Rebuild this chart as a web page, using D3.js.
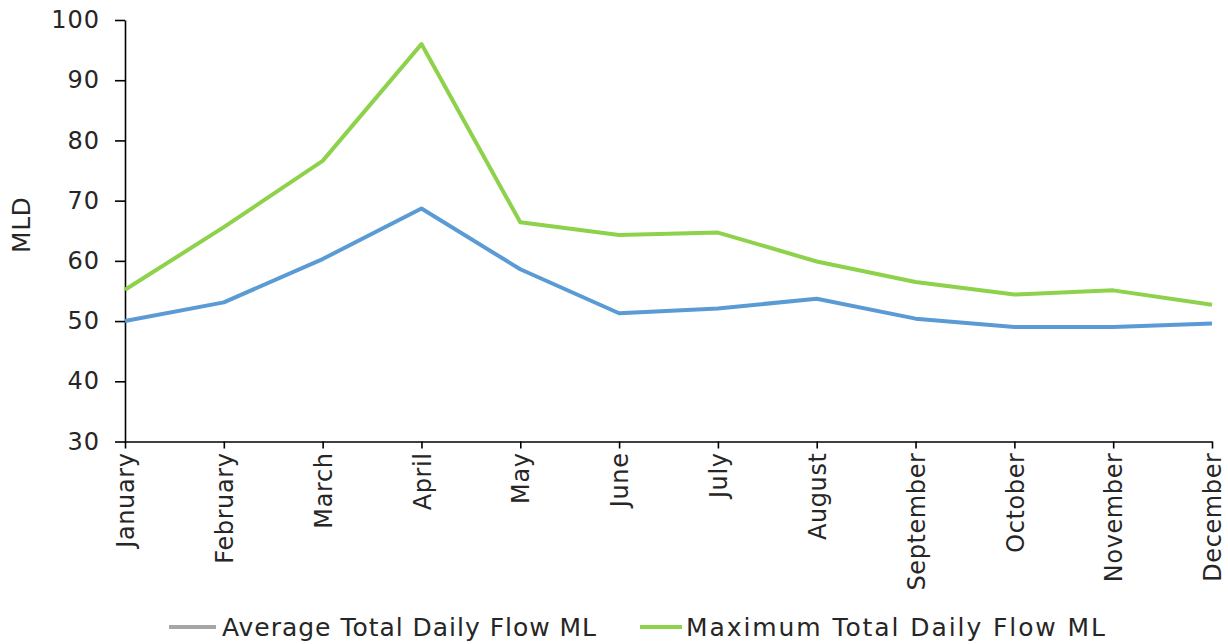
<!DOCTYPE html>
<html>
<head>
<meta charset="utf-8">
<script src="https://cdn.jsdelivr.net/npm/d3@7"></script>
<style>
  html, body { margin: 0; padding: 0; background: #fff; }
  svg text { font-family: "DejaVu Sans", Verdana, sans-serif; fill: #262626; }
</style>
</head>
<body>
<svg id="chart" width="1228" height="644"></svg>
<script>
const months = ["January","February","March","April","May","June","July","August","September","October","November","December"];
const avgFlow = [50.0, 53.1, 60.3, 68.7, 58.6, 51.3, 52.1, 53.7, 50.4, 49.0, 49.0, 49.6];
const maxFlow = [55.2, 65.6, 76.6, 96.0, 66.4, 64.3, 64.7, 59.9, 56.5, 54.4, 55.1, 52.7];
const yTicks = [30, 40, 50, 60, 70, 80, 90, 100];
const seriesNames = ["Average Total Daily Flow ML", "Maximum Total Daily Flow ML"];

const svg = d3.select("#chart");
const mLeft = 125, mRight = 1212, mTop = 20, mBottom = 441.5;

const x = d3.scalePoint().domain(months).range([mLeft, mRight]).padding(0);
const y = d3.scaleLinear().domain([30, 100]).range([mBottom, mTop]);

// Y axis
const yAxis = svg.append("g")
  .attr("transform", `translate(${mLeft},0)`)
  .call(d3.axisLeft(y).tickValues(yTicks).tickSize(10).tickPadding(15).tickSizeOuter(0));
yAxis.select(".domain").attr("stroke", "#000").attr("stroke-width", 1.6);
yAxis.selectAll(".tick line").attr("stroke", "#000").attr("stroke-width", 1.6);
yAxis.selectAll(".tick text").style("font-size", "24px").attr("fill", "#262626")
  .style("font-family", '"DejaVu Sans", Verdana, sans-serif')
  .style("letter-spacing", "1px");

// X axis
const xAxis = svg.append("g")
  .attr("transform", `translate(0,${mBottom})`)
  .call(d3.axisBottom(x).tickSize(7).tickSizeOuter(0));
xAxis.select(".domain").attr("stroke", "#000").attr("stroke-width", 1.6);
xAxis.selectAll(".tick line").attr("stroke", "#000").attr("stroke-width", 1.6);
xAxis.selectAll(".tick text")
  .style("font-size", "24px").attr("fill", "#262626")
  .style("font-family", '"DejaVu Sans", Verdana, sans-serif')
  .style("letter-spacing", "0.6px")
  .attr("text-anchor", "end")
  .attr("transform", "rotate(-90)")
  .attr("x", -11).attr("y", 0).attr("dy", "0.36em");

// Y label
svg.append("text")
  .attr("transform", `translate(30,${(mTop + mBottom) / 2 - 6}) rotate(-90)`)
  .attr("text-anchor", "middle")
  .style("font-size", "25px")
  .style("letter-spacing", "0.5px")
  .text("MLD");

// Lines
const line = d3.line().x((d, i) => x(months[i])).y(d => y(d));
svg.append("path").datum(avgFlow)
  .attr("fill", "none").attr("stroke", "#5B9BD5").attr("stroke-width", 4)
  .attr("stroke-linejoin", "round").attr("d", line);
svg.append("path").datum(maxFlow)
  .attr("fill", "none").attr("stroke", "#8ED14B").attr("stroke-width", 4)
  .attr("stroke-linejoin", "round").attr("d", line);

// Legend
const legend = [
  { name: seriesNames[0], color: "#A6A6A6", x0: 169, x1: 216, tx: 222, w: 374 },
  { name: seriesNames[1], color: "#8ED14B", x0: 640, x1: 682, tx: 686, w: 419 }
];
const lg = svg.append("g");
legend.forEach(l => {
  lg.append("line").attr("x1", l.x0).attr("x2", l.x1)
    .attr("y1", 627).attr("y2", 627)
    .attr("stroke", l.color).attr("stroke-width", 4);
  lg.append("text").attr("x", l.tx).attr("y", 636)
    .attr("textLength", l.w).attr("lengthAdjust", "spacing")
    .style("font-size", "25px").text(l.name);
});
</script>
</body>
</html>
